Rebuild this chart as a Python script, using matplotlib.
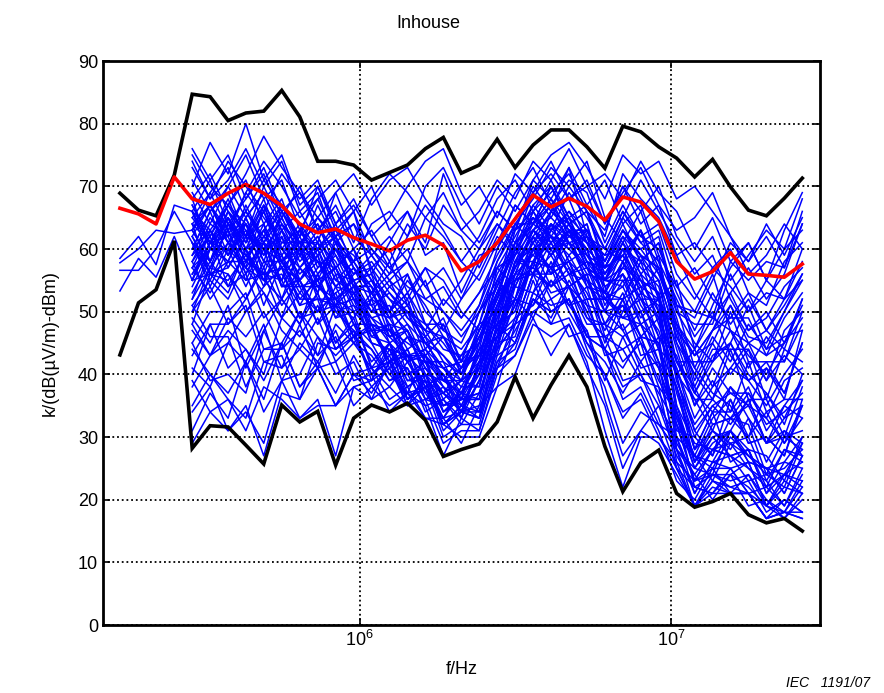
import math
import matplotlib
matplotlib.use("Agg")
import matplotlib.pyplot as plt
from matplotlib.ticker import FixedLocator, NullLocator, FuncFormatter

plt.rcParams['font.family'] = ['Liberation Sans', 'DejaVu Sans']
plt.rcParams['mathtext.fontset'] = 'custom'
plt.rcParams['mathtext.rm'] = 'Liberation Sans'
plt.rcParams['mathtext.it'] = 'Liberation Sans:italic'

# Frequencias de medicao (MHz)
freq_mhz = [0.170, 0.195, 0.222, 0.254, 0.290, 0.331, 0.378, 0.431, 0.492, 0.562,
            0.642, 0.733, 0.837, 0.956, 1.091, 1.246, 1.423, 1.624, 1.855, 2.118,
            2.418, 2.761, 3.153, 3.600, 4.111, 4.694, 5.359, 6.119, 6.987, 7.978,
            9.110, 10.40, 11.88, 13.56, 15.48, 17.68, 20.19, 23.05, 26.32]
freq = [f * 1e6 for f in freq_mhz]

# Envoltorias (max / min) e curva vermelha
maximo = [68.9, 66.2, 65.3, 71.8, 84.7, 84.3, 80.5, 81.7, 82.0, 85.3, 81.1, 74.0, 74.0,
          73.4, 71.0, 72.2, 73.4, 76.0, 77.8, 72.1, 73.4, 77.5, 73.0, 76.6, 79.0, 79.0,
          76.3, 72.9, 79.6, 78.7, 76.3, 74.5, 71.5, 74.3, 69.9, 66.2, 65.3, 68.1, 71.3]
minimo = [43.1, 51.4, 53.5, 61.3, 28.2, 31.8, 31.6, 28.7, 25.7, 35.1, 32.4, 34.1, 25.5,
          33.0, 35.1, 34.0, 35.4, 32.7, 26.9, 28.0, 28.9, 32.4, 39.6, 33.0, 38.3, 43.0,
          38.0, 28.5, 21.3, 25.9, 27.9, 21.0, 18.8, 19.7, 21.0, 17.6, 16.3, 17.0, 15.0]
vermelha = [66.5, 65.6, 64.0, 71.5, 68.0, 67.1, 68.9, 70.3, 68.9, 66.9, 64.0, 62.6, 63.2,
            61.8, 60.8, 59.7, 61.4, 62.2, 60.6, 56.5, 58.0, 61.0, 64.8, 68.6, 66.7, 68.1,
            66.8, 64.6, 68.3, 67.5, 64.4, 58.0, 55.2, 56.4, 59.4, 56.0, 55.8, 55.5, 57.6]

# Curvas que comecam em 170 kHz
inicio_longas = [[58.5, 62.0, 57.5, 67.0],
                 [57.8, 60.0, 63.0, 62.5],
                 [56.6, 56.6, 60.0, 66.0],
                 [53.3, 58.5, 55.5, 62.0]]
resto_longas = [
    [66, 61, 64, 58, 63, 57, 60, 55, 61, 54, 53, 49, 50, 45, 46, 41, 47, 53, 61, 63, 67, 63, 63, 57, 63, 59, 57, 47, 43, 45, 51, 45, 43, 45, 51],
    [63, 67, 61, 59, 55, 61, 61, 61, 55, 53, 47, 47, 43, 43, 39, 39, 41, 51, 57, 63, 59, 63, 57, 55, 55, 55, 49, 41, 31, 35, 37, 35, 29, 33, 35],
    [61, 58, 65, 60, 61, 54, 55, 50, 51, 46, 47, 42, 43, 36, 37, 34, 39, 44, 55, 56, 61, 56, 57, 50, 51, 46, 45, 32, 27, 26, 31, 26, 25, 24, 29],
    [55, 56, 57, 62, 55, 56, 51, 52, 51, 52, 45, 44, 39, 40, 35, 36, 37, 46, 49, 58, 57, 58, 51, 50, 49, 48, 41, 32, 23, 28, 27, 28, 21, 24, 23],
]

# Curvas que comecam em 290 kHz
curvas = [
    # altas
    [76, 71, 75, 68, 73, 66, 69, 63, 66, 60, 63, 58, 64, 60, 67, 63, 66, 71, 68, 74, 71, 76, 70, 72, 68, 74, 69, 66, 60, 65, 58, 61, 55, 60, 63],
    [70, 77, 72, 80, 71, 75, 67, 70, 64, 68, 62, 65, 70, 74, 76, 69, 64, 70, 66, 71, 75, 77, 73, 68, 75, 72, 74, 68, 70, 66, 62, 58, 62, 57, 66],
    [73, 68, 74, 70, 66, 72, 68, 71, 64, 67, 62, 57, 60, 54, 57, 52, 58, 64, 61, 69, 72, 68, 71, 64, 70, 66, 70, 62, 58, 62, 55, 59, 63, 60, 68],
    [66, 71, 64, 68, 72, 65, 70, 63, 67, 61, 68, 72, 69, 65, 62, 58, 55, 61, 67, 64, 70, 65, 62, 59, 65, 71, 66, 61, 56, 59, 52, 47, 50, 45, 52],
    [69, 64, 70, 75, 68, 71, 63, 60, 64, 57, 53, 58, 51, 55, 47, 52, 56, 62, 59, 66, 69, 72, 66, 63, 70, 64, 67, 59, 53, 49, 47, 41, 46, 42, 48],
    [75, 70, 67, 72, 78, 73, 69, 65, 69, 62, 59, 55, 58, 52, 54, 49, 53, 59, 64, 68, 73, 70, 74, 65, 61, 66, 58, 52, 46, 50, 43, 39, 42, 37, 45],
    [63, 69, 73, 66, 71, 67, 61, 64, 57, 60, 55, 49, 52, 44, 48, 42, 50, 57, 62, 67, 63, 69, 65, 60, 66, 61, 63, 54, 50, 56, 47, 45, 39, 43, 40],
    [65, 61, 67, 71, 64, 68, 60, 65, 62, 66, 59, 62, 58, 65, 69, 63, 60, 64, 60, 67, 70, 64, 66, 57, 63, 58, 61, 51, 49, 55, 61, 58, 64, 59, 65],
    [71, 66, 69, 62, 67, 59, 63, 68, 71, 66, 70, 63, 66, 61, 72, 65, 61, 66, 63, 71, 68, 73, 62, 60, 58, 63, 52, 55, 44, 51, 57, 61, 55, 63, 69],
    [60, 66, 70, 65, 69, 63, 66, 61, 69, 72, 67, 71, 73, 68, 64, 62, 57, 63, 69, 73, 67, 71, 69, 61, 67, 62, 64, 56, 52, 57, 60, 53, 51, 58, 61],
    [57, 63, 59, 65, 58, 66, 62, 70, 63, 66, 56, 61, 66, 59, 61, 53, 59, 60, 67, 64, 68, 62, 64, 55, 60, 53, 57, 47, 43, 47, 53, 57, 52, 56, 64],
    [68, 72, 66, 62, 70, 64, 60, 67, 61, 58, 64, 66, 62, 70, 73, 67, 70, 65, 72, 69, 74, 68, 70, 64, 69, 73, 67, 63, 65, 69, 62, 56, 59, 64, 60],
    [74, 68, 71, 76, 70, 74, 66, 69, 61, 64, 57, 60, 53, 57, 51, 55, 60, 66, 63, 70, 66, 73, 67, 71, 64, 67, 59, 54, 57, 52, 49, 53, 47, 51, 56],
    [62, 67, 63, 69, 74, 70, 65, 68, 62, 64, 60, 56, 62, 67, 63, 58, 62, 68, 71, 66, 71, 65, 67, 62, 72, 68, 65, 59, 61, 57, 54, 50, 55, 52, 58],
    # medias
    [62, 57, 64, 60, 66, 58, 61, 54, 57, 52, 49, 45, 42, 38, 40, 36, 45, 52, 57, 63, 59, 64, 57, 53, 58, 51, 47, 38, 30, 35, 32, 36, 29, 31, 27],
    [55, 61, 58, 65, 59, 63, 55, 60, 52, 55, 47, 43, 46, 41, 37, 39, 42, 53, 60, 56, 63, 65, 59, 55, 62, 56, 53, 42, 37, 42, 45, 39, 41, 36, 47],
    [59, 65, 61, 57, 67, 60, 56, 59, 50, 47, 44, 39, 41, 34, 36, 33, 39, 45, 55, 60, 57, 63, 60, 51, 56, 48, 45, 29, 24, 28, 31, 26, 25, 21, 27],
    [53, 58, 63, 56, 61, 65, 59, 55, 57, 50, 52, 45, 47, 39, 37, 34, 41, 49, 58, 64, 67, 61, 62, 57, 63, 59, 55, 46, 41, 37, 35, 29, 30, 27, 35],
    [66, 60, 63, 57, 55, 59, 51, 56, 60, 54, 50, 49, 44, 46, 39, 43, 45, 55, 61, 59, 57, 54, 56, 48, 51, 45, 41, 33, 25, 29, 31, 28, 27, 23, 30],
    [52, 57, 61, 64, 60, 62, 55, 50, 53, 46, 48, 42, 41, 36, 35, 37, 40, 51, 57, 61, 64, 58, 55, 53, 49, 50, 44, 41, 33, 38, 41, 45, 47, 44, 52],
    [67, 61, 65, 58, 63, 57, 55, 48, 51, 49, 53, 48, 47, 40, 39, 41, 43, 53, 55, 61, 56, 63, 58, 57, 59, 53, 51, 35, 29, 28, 27, 23, 24, 22, 29],
    [57, 53, 58, 55, 61, 54, 59, 62, 56, 55, 48, 47, 42, 44, 41, 39, 47, 52, 63, 65, 62, 61, 56, 55, 54, 59, 52, 47, 37, 43, 45, 51, 44, 46, 47],
    [61, 56, 55, 59, 56, 63, 57, 60, 54, 53, 45, 44, 37, 38, 33, 34, 35, 45, 51, 58, 61, 56, 55, 48, 53, 46, 45, 33, 27, 23, 29, 25, 23, 19, 25],
    [50, 57, 56, 52, 58, 55, 63, 58, 57, 52, 51, 46, 47, 42, 41, 37, 43, 46, 55, 57, 54, 59, 54, 53, 52, 54, 46, 43, 35, 41, 37, 37, 33, 39, 41],
    [63, 67, 62, 64, 56, 55, 49, 50, 53, 55, 50, 51, 46, 45, 41, 42, 43, 51, 56, 63, 65, 62, 63, 56, 61, 55, 53, 39, 31, 27, 33, 35, 33, 29, 35],
    [55, 61, 60, 67, 61, 59, 54, 55, 50, 51, 46, 45, 40, 41, 37, 41, 45, 57, 59, 65, 60, 61, 57, 55, 57, 63, 56, 51, 41, 47, 49, 49, 43, 49, 53],
    [61, 54, 60, 57, 53, 49, 53, 50, 56, 48, 45, 40, 43, 36, 38, 34, 42, 44, 54, 53, 60, 54, 56, 46, 48, 41, 42, 26, 23, 25, 25, 21, 22, 19, 24],
    [66, 58, 63, 56, 62, 66, 60, 58, 52, 50, 47, 48, 43, 44, 39, 37, 44, 48, 58, 57, 66, 64, 61, 59, 60, 54, 55, 42, 38, 32, 33, 30, 37, 32, 40],
    [48, 56, 53, 60, 51, 58, 55, 59, 51, 54, 49, 50, 42, 43, 34, 36, 36, 48, 50, 60, 60, 63, 54, 52, 49, 53, 44, 38, 26, 32, 33, 32, 24, 30, 28],
    [60, 63, 67, 62, 68, 60, 60, 53, 60, 54, 57, 50, 53, 46, 49, 42, 50, 54, 64, 64, 70, 64, 66, 58, 64, 58, 61, 50, 48, 48, 56, 50, 53, 52, 60],
    [51, 55, 52, 58, 56, 57, 49, 53, 45, 49, 41, 45, 36, 39, 33, 38, 38, 50, 52, 60, 54, 57, 49, 48, 42, 45, 36, 28, 19, 24, 22, 23, 18, 20, 18],
    [64, 61, 62, 55, 56, 49, 57, 53, 62, 55, 56, 47, 50, 43, 46, 40, 48, 50, 60, 60, 62, 59, 62, 53, 60, 60, 62, 51, 50, 49, 58, 55, 58, 57, 64],
    [58, 62, 54, 56, 49, 52, 48, 56, 49, 50, 41, 42, 35, 40, 34, 37, 36, 46, 48, 56, 54, 56, 50, 50, 47, 50, 42, 34, 22, 24, 24, 26, 19, 24, 22],
    [68, 60, 60, 54, 60, 58, 60, 52, 52, 46, 52, 50, 56, 48, 48, 40, 46, 48, 58, 58, 64, 62, 64, 54, 56, 50, 52, 42, 42, 42, 50, 42, 42, 42, 50],
    [54, 60, 58, 64, 58, 58, 52, 52, 44, 46, 40, 42, 36, 38, 32, 35, 34, 44, 48, 56, 56, 58, 52, 52, 50, 52, 46, 40, 28, 34, 26, 28, 22, 28, 26],
    [62, 56, 64, 62, 60, 52, 60, 60, 62, 54, 54, 46, 48, 42, 42, 36, 44, 46, 58, 60, 62, 56, 58, 50, 58, 52, 52, 40, 36, 36, 44, 36, 36, 30, 38],
    [64, 56, 58, 58, 64, 54, 54, 48, 54, 48, 48, 42, 44, 38, 40, 34, 42, 46, 56, 56, 64, 58, 60, 52, 54, 48, 50, 28, 24, 20, 24, 19, 20, 18, 23],
    [52, 60, 60, 60, 54, 62, 54, 54, 52, 54, 46, 48, 40, 42, 36, 39, 38, 48, 52, 62, 56, 58, 52, 52, 52, 58, 50, 48, 38, 44, 44, 44, 36, 44, 42],
    [58, 52, 56, 50, 54, 57, 52, 55, 49, 53, 50, 54, 51, 47, 52, 49, 53, 57, 54, 60, 57, 61, 55, 50, 55, 49, 52, 45, 40, 46, 42, 48, 44, 50, 55],
    [50, 54, 48, 52, 57, 51, 55, 58, 54, 57, 53, 56, 58, 54, 50, 46, 50, 55, 52, 58, 62, 57, 53, 47, 52, 46, 49, 42, 36, 31, 38, 35, 41, 37, 45],
    [63, 58, 54, 60, 55, 52, 57, 54, 51, 56, 59, 55, 52, 57, 55, 50, 47, 53, 60, 56, 59, 54, 51, 44, 50, 56, 48, 40, 44, 38, 45, 40, 37, 33, 39],
    [56, 60, 65, 59, 62, 58, 53, 57, 60, 58, 54, 50, 55, 51, 46, 44, 48, 58, 63, 66, 61, 65, 58, 54, 47, 42, 46, 30, 27, 33, 36, 30, 34, 29, 33],
    [60, 66, 59, 63, 57, 64, 58, 61, 55, 58, 53, 49, 51, 45, 43, 40, 44, 55, 59, 66, 62, 60, 63, 56, 61, 57, 54, 44, 35, 39, 34, 38, 31, 35, 33],
    [67, 62, 68, 61, 66, 60, 64, 57, 60, 56, 58, 54, 56, 50, 47, 45, 51, 58, 64, 61, 66, 68, 61, 58, 65, 61, 58, 48, 44, 49, 53, 47, 49, 54, 57],
    [55, 63, 57, 62, 64, 58, 62, 56, 59, 53, 55, 50, 47, 42, 39, 37, 42, 50, 57, 62, 59, 62, 60, 52, 57, 55, 50, 37, 28, 31, 29, 27, 25, 26, 30],
    [63, 58, 66, 63, 59, 65, 59, 62, 57, 60, 52, 55, 49, 47, 42, 40, 45, 52, 61, 64, 68, 64, 59, 57, 59, 63, 57, 49, 39, 45, 40, 44, 39, 47, 50],
    [58, 64, 62, 69, 65, 61, 63, 59, 62, 57, 54, 50, 53, 48, 45, 41, 47, 54, 60, 64, 62, 66, 61, 55, 61, 56, 59, 45, 37, 34, 38, 33, 29, 35, 39],
    [65, 69, 63, 66, 61, 67, 64, 60, 63, 58, 60, 57, 54, 52, 50, 47, 51, 60, 65, 69, 65, 70, 66, 60, 66, 62, 60, 53, 47, 53, 48, 52, 47, 52, 55],
    [61, 55, 61, 66, 62, 60, 57, 61, 58, 52, 48, 46, 43, 40, 37, 35, 40, 47, 56, 59, 63, 60, 57, 53, 58, 54, 52, 35, 26, 30, 27, 25, 22, 24, 26],
    [57, 60, 65, 61, 67, 63, 59, 63, 60, 56, 57, 53, 49, 46, 43, 39, 46, 51, 59, 63, 60, 63, 58, 56, 60, 58, 55, 46, 40, 36, 41, 39, 35, 40, 44],
    [64, 67, 61, 57, 61, 55, 60, 55, 57, 51, 49, 47, 45, 43, 38, 36, 41, 49, 54, 60, 64, 61, 59, 54, 56, 52, 49, 34, 27, 25, 30, 27, 24, 25, 28],
    [59, 62, 67, 64, 60, 64, 61, 58, 54, 57, 51, 53, 50, 48, 44, 43, 48, 56, 61, 65, 63, 66, 63, 58, 63, 60, 56, 48, 43, 47, 51, 46, 45, 50, 56],
    [66, 63, 59, 65, 69, 66, 61, 64, 59, 55, 56, 52, 48, 45, 41, 38, 43, 50, 58, 62, 66, 63, 61, 55, 59, 55, 53, 39, 32, 36, 33, 37, 32, 34, 37],
    [56, 61, 66, 60, 63, 67, 62, 65, 61, 59, 55, 52, 50, 47, 46, 42, 46, 53, 56, 63, 61, 64, 60, 57, 62, 59, 57, 50, 45, 42, 47, 43, 40, 45, 49],
    # baixas
    [47, 43, 49, 46, 50, 44, 47, 43, 51, 45, 43, 39, 40, 35, 36, 32, 37, 41, 49, 51, 55, 51, 52, 43, 44, 39, 38, 25, 22, 21, 25, 21, 19, 17, 21],
    [43, 48, 41, 44, 40, 49, 46, 51, 44, 47, 39, 41, 35, 38, 32, 34, 33, 41, 45, 52, 50, 52, 46, 44, 38, 40, 33, 25, 19, 23, 22, 21, 17, 18, 18],
    [41, 38, 45, 42, 48, 39, 45, 42, 47, 40, 41, 36, 38, 33, 33, 29, 35, 38, 48, 50, 52, 46, 47, 39, 46, 40, 40, 28, 25, 24, 31, 27, 25, 21, 27],
    [35, 40, 37, 42, 34, 39, 40, 46, 40, 42, 36, 38, 35, 36, 29, 31, 31, 40, 43, 50, 48, 49, 43, 40, 34, 36, 30, 25, 19, 22, 21, 21, 17, 18, 17],
    [49, 45, 51, 41, 47, 52, 48, 53, 45, 48, 42, 45, 38, 40, 34, 36, 36, 48, 50, 58, 52, 54, 46, 46, 44, 46, 38, 34, 25, 30, 31, 36, 29, 30, 31],
    [31, 37, 33, 42, 36, 45, 38, 42, 37, 43, 38, 41, 36, 38, 30, 32, 32, 42, 44, 52, 50, 52, 44, 38, 29, 34, 32, 28, 21, 26, 27, 28, 21, 26, 25],
    [29, 34, 31, 35, 27, 37, 36, 41, 35, 38, 36, 42, 38, 40, 32, 34, 34, 44, 48, 56, 50, 52, 46, 44, 36, 38, 32, 30, 21, 26, 25, 26, 19, 23, 21],
    [45, 39, 40, 37, 47, 41, 44, 41, 48, 45, 48, 41, 44, 37, 40, 33, 42, 43, 52, 51, 58, 51, 54, 45, 52, 43, 44, 31, 30, 27, 36, 29, 30, 27, 36],
    [51, 46, 46, 38, 44, 44, 50, 43, 46, 39, 40, 34, 37, 33, 32, 30, 30, 38, 40, 48, 46, 48, 42, 31, 22, 30, 30, 26, 19, 23, 21, 21, 17, 20, 18],
    [40, 48, 48, 51, 42, 43, 36, 45, 44, 47, 40, 43, 36, 39, 32, 35, 33, 45, 46, 55, 48, 54, 48, 48, 46, 48, 42, 38, 28, 34, 34, 42, 34, 36, 36],
    [39, 34, 36, 33, 42, 41, 48, 41, 42, 35, 38, 35, 37, 35, 27, 33, 31, 41, 43, 49, 43, 48, 41, 35, 25, 31, 29, 24, 19, 21, 21, 21, 17, 18, 17],
    [45, 50, 50, 53, 44, 45, 38, 41, 35, 40, 39, 45, 39, 39, 31, 34, 33, 43, 45, 53, 51, 52, 45, 42, 37, 42, 37, 32, 23, 24, 23, 24, 19, 22, 21],
    [34, 38, 31, 34, 29, 39, 33, 36, 27, 38, 39, 44, 43, 42, 35, 36, 37, 46, 51, 58, 53, 54, 49, 46, 39, 40, 35, 30, 23, 28, 29, 30, 23, 28, 27],
    [44, 40, 36, 31, 38, 36, 33, 35, 35, 40, 37, 42, 46, 41, 38, 34, 39, 48, 45, 53, 57, 50, 45, 40, 33, 37, 31, 23, 20, 25, 21, 24, 20, 17, 20],
    [38, 43, 47, 44, 39, 45, 50, 46, 43, 46, 44, 40, 37, 43, 40, 35, 41, 47, 52, 49, 55, 51, 47, 36, 27, 31, 35, 27, 22, 21, 24, 22, 19, 18, 22],
    [48, 43, 45, 50, 53, 47, 44, 49, 42, 45, 41, 38, 42, 37, 33, 37, 34, 42, 47, 52, 49, 55, 50, 44, 41, 46, 39, 34, 26, 31, 28, 33, 26, 31, 29],
]

fig = plt.figure(figsize=(8.84, 6.93), dpi=100)
ax = fig.add_axes([103 / 884, 1 - 625 / 693, 717 / 884, 564 / 693])

# Curvas azuis
for ini, resto in zip(inicio_longas, resto_longas):
    ax.plot(freq, ini + resto, color="blue", lw=1.1)
for c in curvas:
    ax.plot(freq[4:], c, color="blue", lw=1.1)

# Envoltorias e curva vermelha
ax.plot(freq, maximo, color="black", lw=2.6, solid_joinstyle="miter")
ax.plot(freq, minimo, color="black", lw=2.6, solid_joinstyle="miter")
ax.plot(freq, vermelha, color="red", lw=2.6)

ax.set_xscale("log")
ax.set_xlim(1.5e5, 3.0e7)
ax.set_ylim(0, 90)
ax.set_yticks(range(0, 91, 10))
ax.xaxis.set_major_locator(FixedLocator([1e6, 1e7]))
ax.xaxis.set_minor_locator(NullLocator())
ax.xaxis.set_major_formatter(FuncFormatter(lambda v, p: r"$10^{%d}$" % round(math.log10(v))))

# Grade pontilhada estilo MATLAB
ax.grid(True, color="black", linestyle=(0, (1, 1.6)), linewidth=1.3)
ax.set_axisbelow(False)
ax.tick_params(direction="in", length=5, width=1.2, labelsize=13,
               top=True, right=True, colors="black")
for s in ax.spines.values():
    s.set_linewidth(2.0)

ax.set_xlabel("f/Hz", fontsize=13, labelpad=8)
ax.set_ylabel("k/(dB(µV/m)-dBm)", fontsize=13, labelpad=14)
fig.text(428 / 884, 1 - 23 / 693, "Inhouse", ha="center", va="center", fontsize=13)
fig.text(786 / 884, 0.004, "IEC   1191/07", ha="left", va="bottom",
         fontsize=10, style="italic")

plt.savefig("out.png", dpi=100)
plt.close()
